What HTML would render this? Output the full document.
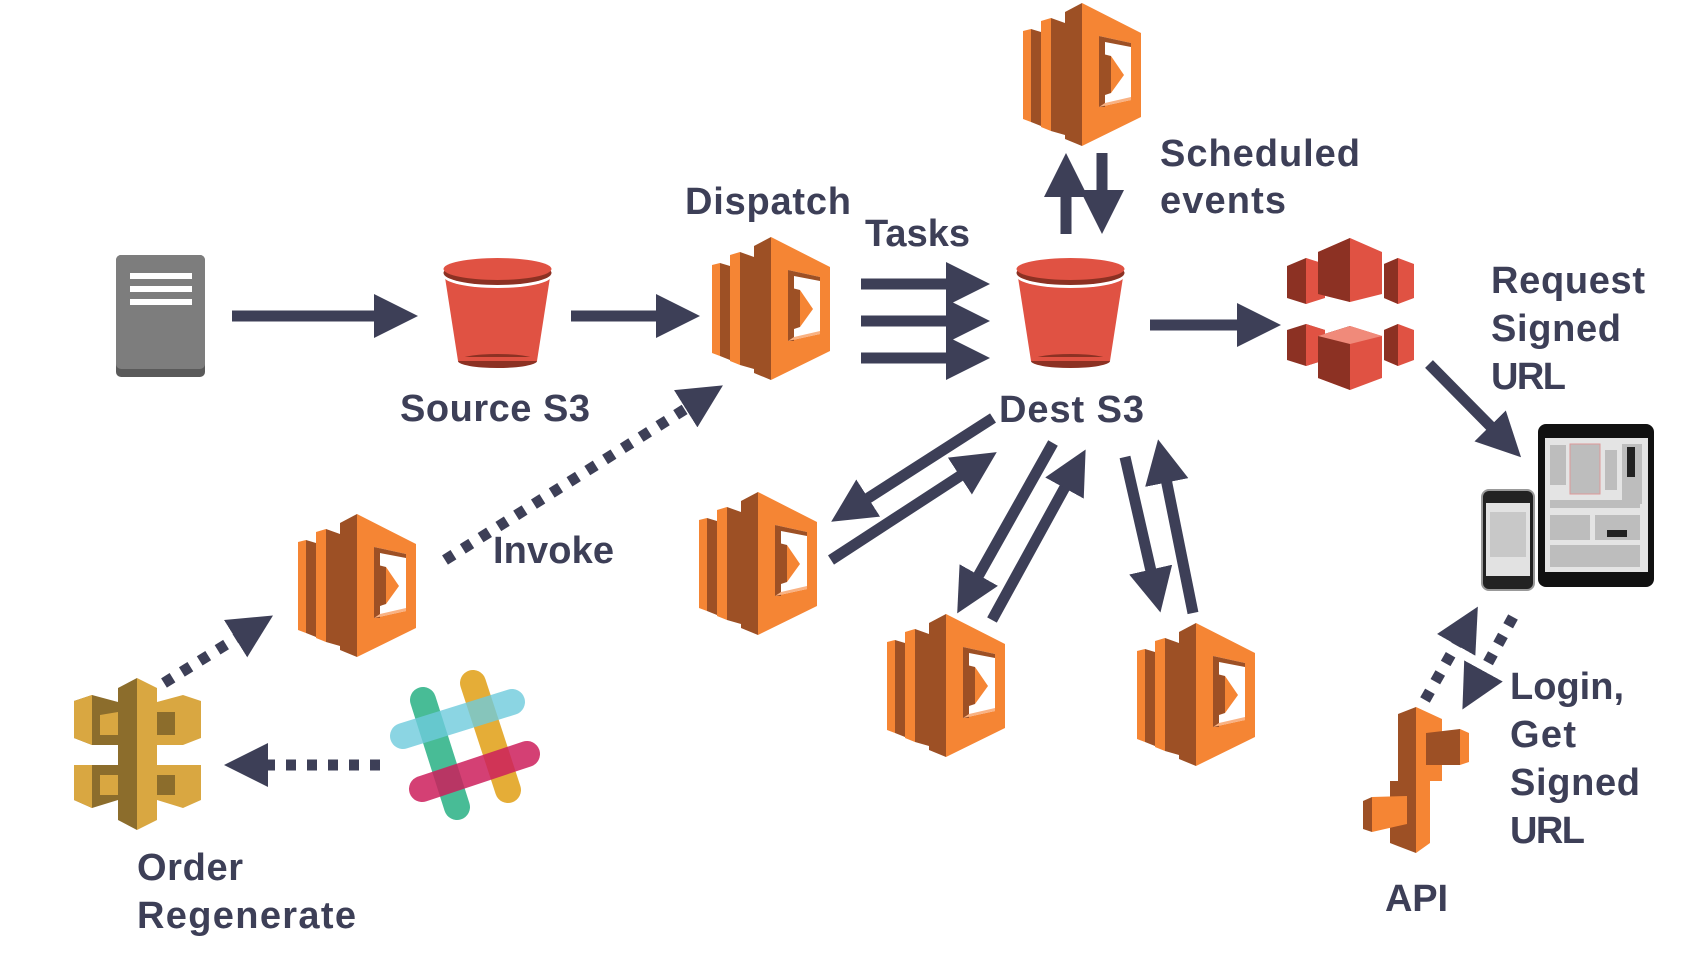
<!DOCTYPE html>
<html><head><meta charset="utf-8"><style>
html,body{margin:0;padding:0;background:#fff;}
svg{display:block}
text{font-family:"Liberation Sans",sans-serif;font-weight:bold;fill:#3d3f57;font-size:38px}
</style></head><body>
<svg width="1705" height="958" viewBox="0 0 1705 958" xmlns="http://www.w3.org/2000/svg">
<defs>
<marker id="ah" markerUnits="userSpaceOnUse" markerWidth="46" markerHeight="46" refX="24" refY="22" orient="auto">
<path d="M0,0 L44,22 L0,44 z" fill="#3d3f57"/>
</marker>
<g id="lam">
<polygon points="0,28 8,26 8,119 0,116" fill="#F58534"/>
<polygon points="8,26 18,29 18,123 8,119" fill="#9D5025"/>
<polygon points="18,18 28,15 28,128 18,124" fill="#F58534"/>
<polygon points="28,15 42,20 42,132 28,128" fill="#9D5025"/>
<polygon points="42,9 59,0 59,143 42,136" fill="#9D5025"/>
<path fill-rule="evenodd" fill="#F58534" d="M59,0 L118,30 L118,114 L59,143 z M76,33 L108,40 L108,97 L76,104 z"/>
<polygon points="76,33 108,40 108,44 82,39 82,104 76,104" fill="#9D5025"/>
<polygon points="82,100 108,94 108,97 76,104" fill="#F9B283"/>
<polygon points="76,50 88,53 88,90 76,94" fill="#9D5025"/>
<polygon points="88,53 101,72 88,90" fill="#F58534"/>
</g>
<g id="bkt">
<polygon points="1,14 108,14 94,104 15,104" fill="#E05243"/>
<ellipse cx="54.5" cy="104" rx="39.5" ry="7" fill="#8C3123"/>
<polygon points="15,100 94,100 94,104 15,104" fill="#E05243"/>
<ellipse cx="54.5" cy="19" rx="54" ry="12" fill="#fff"/>
<ellipse cx="54.5" cy="16" rx="54" ry="12" fill="#8C3123"/>
<ellipse cx="54.5" cy="12" rx="54" ry="11" fill="#E05243"/>
</g>
</defs>

<!-- server -->
<rect x="116" y="255" width="89" height="122" rx="5" fill="#5a5a5a"/>
<rect x="116" y="255" width="89" height="114" rx="5" fill="#7d7d7d"/>
<rect x="130" y="273" width="62" height="6" fill="#fff"/>
<rect x="130" y="286" width="62" height="6" fill="#fff"/>
<rect x="130" y="299" width="62" height="6" fill="#fff"/>

<use href="#bkt" x="443" y="257"/>
<use href="#bkt" x="1016" y="257"/>

<use href="#lam" x="712" y="237"/>
<use href="#lam" x="1023" y="3"/>
<use href="#lam" x="699" y="492"/>
<use href="#lam" x="887" y="614"/>
<use href="#lam" x="1137" y="623"/>
<use href="#lam" x="298" y="514"/>

<!-- CloudFront -->
<g>
<polygon points="1287,266 1306,258 1320,264 1320,298 1306,304 1287,298" fill="#8C3123"/>
<polygon points="1306,258 1325,264 1325,298 1306,304" fill="#E05243"/>
<polygon points="1384,264 1398,258 1414,264 1414,298 1398,304 1384,298" fill="#E05243"/>
<polygon points="1384,264 1398,258 1398,304 1384,298" fill="#8C3123"/>
<polygon points="1318,252 1350,238 1382,252 1382,294 1350,302 1318,294" fill="#E05243"/>
<polygon points="1318,252 1350,238 1350,302 1318,294" fill="#8C3123"/>
<polygon points="1287,330 1306,324 1325,330 1325,360 1306,366 1287,360" fill="#8C3123"/>
<polygon points="1306,324 1325,330 1325,360 1306,366" fill="#E05243"/>
<polygon points="1384,330 1398,324 1414,330 1414,360 1398,366 1384,360" fill="#E05243"/>
<polygon points="1384,330 1398,324 1398,366 1384,360" fill="#8C3123"/>
<polygon points="1318,336 1350,326 1382,336 1382,378 1350,390 1318,378" fill="#E05243"/>
<polygon points="1318,336 1350,326 1350,390 1318,378" fill="#8C3123"/>
<polygon points="1318,336 1350,326 1382,336 1350,344" fill="#F08A7A"/>
</g>

<!-- devices -->
<rect x="1482" y="490" width="52" height="100" rx="7" fill="#222" stroke="#999" stroke-width="2"/>
<rect x="1486" y="503" width="44" height="73" fill="#e2e2e2"/>
<rect x="1490" y="512" width="36" height="45" fill="#c8c8c8"/>
<rect x="1538" y="424" width="116" height="163" rx="8" fill="#111"/>
<rect x="1545" y="438" width="103" height="134" fill="#e4e4e4"/>
<g fill="#bdbdbd">
<rect x="1550" y="445" width="16" height="40"/><rect x="1570" y="444" width="30" height="50"/><rect x="1605" y="450" width="12" height="40"/><rect x="1622" y="444" width="20" height="60"/>
<rect x="1550" y="500" width="90" height="8"/><rect x="1550" y="515" width="40" height="25"/><rect x="1595" y="515" width="45" height="25"/><rect x="1550" y="545" width="90" height="22"/>
</g>
<rect x="1570" y="444" width="30" height="50" fill="none" stroke="#d99" stroke-width="1"/>
<rect x="1607" y="530" width="20" height="7" fill="#222"/>
<rect x="1627" y="447" width="8" height="30" fill="#222"/>

<!-- API (orange) -->
<g>
<polygon points="1398,714 1416,707 1416,853 1390,843 1390,781 1398,781" fill="#9D5025"/>
<polygon points="1416,707 1442,719 1442,781 1430,781 1430,843 1416,853" fill="#F58534"/>
<polygon points="1426,733 1460,729 1460,765 1426,765" fill="#9D5025"/>
<polygon points="1460,729 1469,733 1469,762 1460,765" fill="#F58534"/>
<polygon points="1363,801 1372,797 1372,832 1363,829" fill="#9D5025"/>
<polygon points="1372,797 1407,796 1407,824 1372,832" fill="#F58534"/>
</g>

<!-- API gateway (gold) -->
<g>
<polygon points="74,701 92,695 118,702 118,745 92,745 74,738" fill="#8C6D2C"/>
<polygon points="74,701 92,695 92,745 74,738" fill="#D9A741"/>
<polygon points="100,715 118,712 118,735 100,735" fill="#D9A741"/>
<polygon points="157,702 183,695 201,701 201,738 183,745 157,745" fill="#D9A741"/>
<polygon points="157,712 175,712 175,735 157,735" fill="#8C6D2C"/>
<polygon points="74,765 118,765 118,800 92,808 74,800" fill="#8C6D2C"/>
<polygon points="74,765 92,765 92,808 74,800" fill="#D9A741"/>
<polygon points="100,775 118,775 118,795 100,795" fill="#D9A741"/>
<polygon points="157,765 201,765 201,800 183,808 157,800" fill="#D9A741"/>
<polygon points="157,775 175,775 175,795 157,795" fill="#8C6D2C"/>
<polygon points="118,688 137,678 137,830 118,820" fill="#8C6D2C"/>
<polygon points="137,678 157,688 157,820 137,830" fill="#D9A741"/>
</g>

<!-- slack -->
<g stroke-linecap="round" stroke-width="26" fill="none">
<line x1="423" y1="700" x2="457" y2="807" stroke="#3EB890" stroke-opacity="0.95"/>
<line x1="473" y1="683" x2="508" y2="790" stroke="#E4A92C" stroke-opacity="0.95"/>
<line x1="403" y1="736" x2="512" y2="702" stroke="#6ECADC" stroke-opacity="0.8"/>
<line x1="422" y1="789" x2="527" y2="754" stroke="#CC1F5C" stroke-opacity="0.85"/>
</g>

<!-- solid arrows -->
<g stroke="#3d3f57" stroke-width="11" fill="none" marker-end="url(#ah)">
<line x1="232" y1="316" x2="398" y2="316"/>
<line x1="571" y1="316" x2="680" y2="316"/>
<line x1="861" y1="284" x2="970" y2="284"/>
<line x1="861" y1="321" x2="970" y2="321"/>
<line x1="861" y1="358" x2="970" y2="358"/>
<line x1="1150" y1="325" x2="1261" y2="325"/>
<line x1="1066" y1="234" x2="1066" y2="173"/>
<line x1="1102" y1="153" x2="1102" y2="214"/>
<line x1="1429" y1="364" x2="1507" y2="443"/>
<line x1="993" y1="418" x2="848" y2="511"/>
<line x1="831" y1="560" x2="980" y2="463"/>
<line x1="1053" y1="443" x2="967" y2="596"/>
<line x1="992" y1="620" x2="1076" y2="467"/>
<line x1="1125" y1="457" x2="1156" y2="593"/>
<line x1="1193" y1="613" x2="1162" y2="459"/>
</g>
<!-- dotted arrows -->
<g stroke="#3d3f57" stroke-width="11" fill="none" stroke-dasharray="10 11" marker-end="url(#ah)">
<line x1="445" y1="560" x2="706" y2="396"/>
<line x1="164" y1="683" x2="256" y2="626"/>
<line x1="380" y1="765" x2="244" y2="765"/>
<line x1="1425" y1="700" x2="1468" y2="624"/>
<line x1="1513" y1="617" x2="1472" y2="692"/>
</g>

<!-- labels -->
<text x="1160" y="166" textLength="200">Scheduled</text>
<text x="1160" y="213" textLength="126">events</text>
<text x="685" y="214" textLength="166">Dispatch</text>
<text x="865" y="246" textLength="105">Tasks</text>
<text x="400" y="421" textLength="190">Source S3</text>
<text x="999" y="422" textLength="145">Dest S3</text>
<text x="1491" y="293" textLength="154">Request</text>
<text x="1491" y="341" textLength="130">Signed</text>
<text x="1491" y="389" textLength="75">URL</text>
<text x="493" y="563" textLength="121">Invoke</text>
<text x="1510" y="699" textLength="114">Login,</text>
<text x="1510" y="747" textLength="66">Get</text>
<text x="1510" y="795" textLength="130">Signed</text>
<text x="1510" y="843" textLength="75">URL</text>
<text x="1385" y="911" textLength="63">API</text>
<text x="137" y="880" textLength="106">Order</text>
<text x="137" y="928" textLength="219">Regenerate</text>
</svg>
</body></html>
